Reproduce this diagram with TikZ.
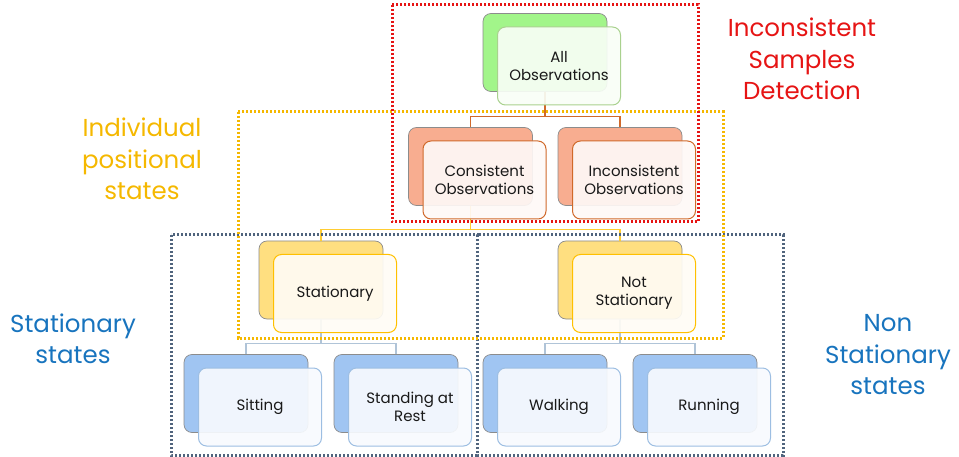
\documentclass[tikz,border=0pt]{standalone}
\usepackage{fontspec}
\setmainfont{Poppins}
\usetikzlibrary{calc}
\definecolor{gback}{RGB}{162,245,138}
\definecolor{gfront}{RGB}{169,209,142}
\definecolor{oback}{RGB}{248,173,144}
\definecolor{ofront}{RGB}{208,105,42}
\definecolor{yback}{RGB}{255,223,128}
\definecolor{yfront}{RGB}{255,192,0}
\definecolor{bback}{RGB}{160,197,242}
\definecolor{bfront}{RGB}{157,190,226}
\definecolor{bline}{RGB}{176,196,216}
\definecolor{redbox}{RGB}{230,20,20}
\definecolor{goldbox}{RGB}{245,184,0}
\definecolor{slatebox}{RGB}{80,100,125}
\definecolor{lblblue}{RGB}{24,116,190}
\definecolor{txt}{RGB}{25,25,25}
\tikzset{
  backbox/.style={draw=black!45, line width=0.7pt, rounded corners=8pt,
    minimum width=124pt, minimum height=78pt, inner sep=0pt},
  frontbox/.style={line width=1pt, rounded corners=8pt,
    minimum width=123pt, minimum height=78pt, inner sep=0pt, align=center,
    text=txt, font=\fontsize{15}{18}\selectfont, text opacity=1},
  gfb/.style={frontbox, draw=gfront, fill=gback!8!white, fill opacity=0.92},
  ofb/.style={frontbox, draw=ofront, fill=oback!8!white, fill opacity=0.92},
  yfb/.style={frontbox, draw=yfront, fill=yback!8!white, fill opacity=0.92},
  bfb/.style={frontbox, draw=bfront, fill=bback!8!white, fill opacity=0.92},
  conn/.style={line width=1.2pt},
  dotbox/.style={line width=3pt, dash pattern=on 2.2pt off 1.8pt},
  biglbl/.style={align=center, font=\fontsize{24.5}{31.5}\selectfont}
}
\begin{document}
\begin{tikzpicture}[x=1pt,y=-1pt]
\useasboundingbox (0,0) rectangle (959,457);
% back boxes
\node[backbox, fill=gback] (all) at (545,52.5) {};
\node[backbox, fill=oback] (cons) at (470.5,166.5) {};
\node[backbox, fill=oback] (incons) at (620,166.5) {};
\node[backbox, fill=yback] (stat) at (321,280) {};
\node[backbox, fill=yback] (nstat) at (620,280) {};
\node[backbox, fill=bback] (sit) at (246,393.5) {};
\node[backbox, fill=bback] (stand) at (396,393.5) {};
\node[backbox, fill=bback] (walk) at (545,393.5) {};
\node[backbox, fill=bback] (run) at (695,393.5) {};
% connectors
\draw[conn, draw=ofront] (all.south) -- ++(0,25) -| (cons.north);
\draw[conn, draw=ofront] (all.south) -- ++(0,25) -| (incons.north);
\draw[conn, draw=yfront!80] (cons.south) -- ++(0,24) -| (stat.north);
\draw[conn, draw=yfront!80] (cons.south) -- ++(0,24) -| (nstat.north);
\draw[conn, draw=bline] (stat.south) -- ++(0,24) -| (sit.north);
\draw[conn, draw=bline] (stat.south) -- ++(0,24) -| (stand.north);
\draw[conn, draw=bline] (nstat.south) -- ++(0,24) -| (walk.north);
\draw[conn, draw=bline] (nstat.south) -- ++(0,24) -| (run.north);
% front boxes
\node[gfb] (allf) at ($(all)+(14,13.5)$) {All\\Observations};
\node[ofb] (consf) at ($(cons)+(14,13.5)$) {Consistent\\Observations};
\node[ofb] (inconsf) at ($(incons)+(14,13.5)$) {Inconsistent\\Observations};
\node[yfb] (statf) at ($(stat)+(14,13.5)$) {Stationary};
\node[yfb] (nstatf) at ($(nstat)+(14,13.5)$) {Not\\Stationary};
\node[bfb] (sitf) at ($(sit)+(14,13.5)$) {Sitting};
\node[bfb] (standf) at ($(stand)+(14,13.5)$) {Standing at\\Rest};
\node[bfb] (walkf) at ($(walk)+(14,13.5)$) {Walking};
\node[bfb] (runf) at ($(run)+(14,13.5)$) {Running};
% dotted group boxes
\draw[dotbox, draw=slatebox] (171,235) rectangle (477,455);
\draw[dotbox, draw=slatebox] (477,235) rectangle (783,455);
\draw[dotbox, draw=goldbox] (238,112) rectangle (723,338);
\draw[dotbox, draw=redbox] (392,5) rectangle (698,222);
% labels
\node[biglbl, text=redbox] (lred) at (802,59) {Inconsistent\\Samples\\Detection};
\node[biglbl, text=goldbox] (lgold) at (142,159) {Individual\\positional\\states};
\node[biglbl, text=lblblue] (lstat) at (73,339) {Stationary\\states};
\node[biglbl, text=lblblue] (lnstat) at (888,355) {Non\\Stationary\\states};
\end{tikzpicture}
\end{document}
